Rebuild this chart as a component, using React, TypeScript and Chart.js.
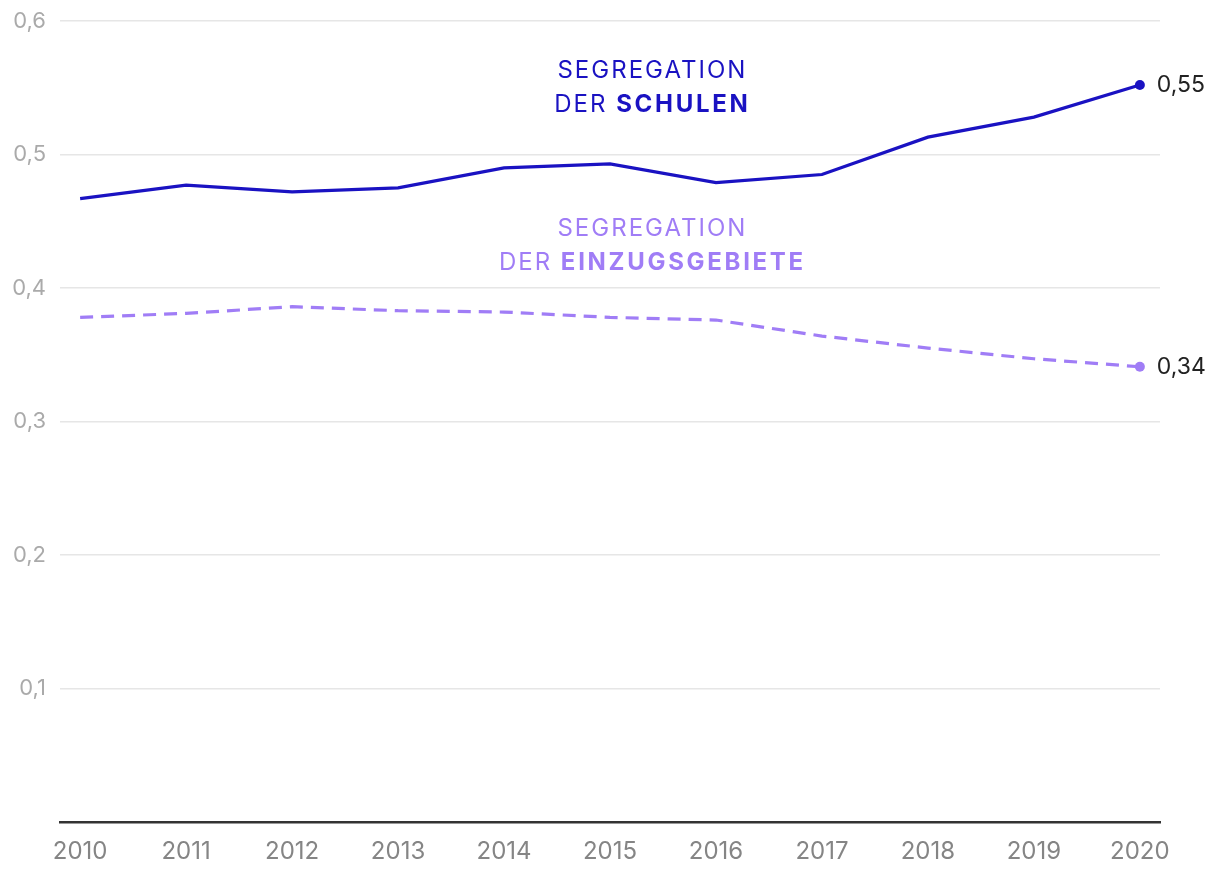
import React, { useEffect, useRef } from "react";
import { Chart, registerables } from "chart.js";

Chart.register(...registerables);

const years = [2010, 2011, 2012, 2013, 2014, 2015, 2016, 2017, 2018, 2019, 2020];
const schulen = [0.467, 0.477, 0.472, 0.475, 0.49, 0.493, 0.479, 0.485, 0.513, 0.528, 0.552];
const einzugsgebiete = [0.378, 0.381, 0.386, 0.383, 0.382, 0.378, 0.376, 0.364, 0.355, 0.347, 0.341];
const yTicks = [0, 0.1, 0.2, 0.3, 0.4, 0.5, 0.6];
const endLabels = ["0,55", "0,34"];

const BLUE = "#1a12c2";
const PURPLE = "#a07df6";
const FONT = "Inter, 'Noto Sans', sans-serif";

const annotations = [
  { color: BLUE, x: 2015.4, y1: 0.5625, y2: 0.537, line1: "SEGREGATION", pre: "DER ", bold: "SCHULEN" },
  { color: PURPLE, x: 2015.4, y1: 0.444, y2: 0.419, line1: "SEGREGATION", pre: "DER ", bold: "EINZUGSGEBIETE" },
];

const textPlugin = {
  id: "textPlugin",
  afterDatasetsDraw(chart: any) {
    const ctx = chart.ctx;
    const xs = chart.scales.x;
    const ys = chart.scales.y;
    ctx.save();
    ctx.textBaseline = "middle";
    annotations.forEach((a) => {
      const cx = xs.getPixelForValue(a.x);
      ctx.fillStyle = a.color;
      (ctx as any).letterSpacing = "2px";
      ctx.font = `400 24px ${FONT}`;
      ctx.textAlign = "center";
      ctx.fillText(a.line1, cx, ys.getPixelForValue(a.y1));
      ctx.textAlign = "left";
      const w1 = ctx.measureText(a.pre).width;
      (ctx as any).letterSpacing = "2.7px";
      ctx.font = `700 24px ${FONT}`;
      const w2 = ctx.measureText(a.bold).width;
      const start = cx - (w1 + w2) / 2;
      const y2 = ys.getPixelForValue(a.y2);
      (ctx as any).letterSpacing = "2px";
      ctx.font = `400 24px ${FONT}`;
      ctx.fillText(a.pre, start, y2);
      (ctx as any).letterSpacing = "2.7px";
      ctx.font = `700 24px ${FONT}`;
      ctx.fillText(a.bold, start + w1, y2);
    });
    (ctx as any).letterSpacing = "0px";
    ctx.font = `400 23px ${FONT}`;
    ctx.fillStyle = "#222";
    ctx.textAlign = "left";
    chart.data.datasets.forEach((ds: any, i: number) => {
      const meta = chart.getDatasetMeta(i);
      const last = meta.data[meta.data.length - 1];
      ctx.fillText(endLabels[i], last.x + 17, last.y);
    });
    ctx.restore();
  },
};

export default function App() {
  const ref = useRef<HTMLCanvasElement>(null);
  useEffect(() => {
    document.body.style.margin = "0";
    const lastRadius = (n: number) => (c: any) => (c.dataIndex === n - 1 ? 5 : 0);
    const chart = new Chart(ref.current!, {
      type: "line",
      data: {
        datasets: [
          {
            data: years.map((y, i) => ({ x: y, y: schulen[i] })),
            borderColor: BLUE,
            backgroundColor: BLUE,
            borderWidth: 3.2,
            pointRadius: lastRadius(years.length),
            pointBorderWidth: 0,
            tension: 0,
          },
          {
            data: years.map((y, i) => ({ x: y, y: einzugsgebiete[i] })),
            borderColor: PURPLE,
            backgroundColor: PURPLE,
            borderWidth: 3.2,
            borderDash: [13, 8],
            pointRadius: lastRadius(years.length),
            pointBorderWidth: 0,
            tension: 0,
          },
        ],
      },
      options: {
        animation: false,
        responsive: false,
        layout: { padding: { top: 21, right: 60, left: 0, bottom: 0 } },
        plugins: { legend: { display: false }, tooltip: { enabled: false } },
        scales: {
          x: {
            type: "linear",
            min: 2009.81,
            max: 2020.19,
            afterBuildTicks: (axis: any) => {
              axis.ticks = years.map((v) => ({ value: v }));
            },
            afterFit: (s: any) => {
              s.height = 48;
              s.paddingLeft = 0;
              s.paddingRight = 0;
            },
            grid: { display: false, drawTicks: false },
            border: { display: true, color: "#333", width: 2.5 },
            ticks: {
              color: "#858585",
              font: { family: FONT, size: 24 },
              padding: 15,
              maxRotation: 0,
              autoSkip: false,
              callback: (v: any) => String(v),
            },
          },
          y: {
            min: 0,
            max: 0.6,
            afterBuildTicks: (axis: any) => {
              axis.ticks = yTicks.map((v) => ({ value: v }));
            },
            afterFit: (s: any) => {
              s.width = 60;
              s.paddingTop = 0;
              s.paddingBottom = 0;
            },
            border: { display: false },
            grid: {
              drawTicks: false,
              color: (c: any) => (c.tick && c.tick.value === 0 ? "rgba(0,0,0,0)" : "#e6e6e6"),
              lineWidth: 1.5,
            },
            ticks: {
              color: "#aaaaaa",
              font: { family: FONT, size: 22 },
              padding: 14,
              callback: (v: any) => (v === 0 ? "" : Number(v).toFixed(1).replace(".", ",")),
            },
          },
        },
      },
      plugins: [textPlugin],
    });
    return () => chart.destroy();
  }, []);
  return (
    <div style={{ position: "absolute", left: 0, top: 0, width: 1220, height: 870 }}>
      <canvas ref={ref} width={1220} height={870} style={{ width: 1220, height: 870 }} />
    </div>
  );
}
